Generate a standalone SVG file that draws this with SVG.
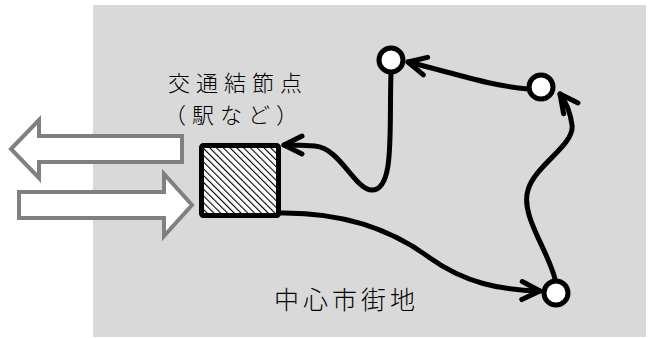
<svg xmlns="http://www.w3.org/2000/svg" width="649" height="338" viewBox="0 0 649 338">
  <style>
    .flow{fill:#fff;stroke:#808080;stroke-width:4;stroke-linejoin:miter}
    .conn{fill:none;stroke:#000;stroke-width:5;stroke-linecap:round;marker-end:url(#chev)}
    .node{fill:#fff;stroke:#000;stroke-width:5}
    .lbl{font-family:"Noto Sans CJK JP","Noto Sans",sans-serif;font-weight:300;fill:#000}
  </style>
  <defs>
    <marker id="chev" markerUnits="userSpaceOnUse" markerWidth="40" markerHeight="40" viewBox="-25 -20 40 40" refX="0" refY="0" orient="auto" overflow="visible">
      <path d="M-18,-9 L0,0 L-18,9" fill="none" stroke="#000" stroke-width="5" stroke-linecap="round" stroke-linejoin="round"/>
    </marker>
    <pattern id="hatch" width="4.8" height="4.8" patternUnits="userSpaceOnUse" patternTransform="rotate(-45)">
      <rect width="4.8" height="4.8" fill="#fff"/>
      <rect x="0" y="0" width="1.1" height="4.8" fill="#000"/>
    </pattern>
  </defs>
  <rect x="93" y="5" width="553" height="332" fill="#d9d9d9"/>

  <g id="flow-out">
    <path class="flow" d="M11,149 L39,120 L39,136 L182,136 L182,162 L39,162 L39,178 Z"/>
  </g>
  <g id="flow-in">
    <path class="flow" d="M19,192 L164,192 L164,174 L192,205 L164,236 L164,218 L19,218 Z"/>
  </g>

  <g id="connectors">
    <path class="conn" d="M391,73 C389,130 395,190 372,190 C355,190 340,148 315,146 C300,145 292,145 284,145"/>
    <path class="conn" d="M528,89 C490,86 450,72 408,62"/>
    <path class="conn" d="M555,279 C548,250 520,215 528,190 C535,165 575,145 572,125 C570,110 566,102 560,94"/>
    <path class="conn" d="M279,213 C340,212 390,228 430,258 C465,283 500,290 540,291"/>
  </g>

  <g id="hub">
    <rect x="201.5" y="145.5" width="77" height="70" rx="2" fill="url(#hatch)" stroke="#000" stroke-width="5"/>
    <text class="lbl" x="168" y="91" font-size="22" letter-spacing="6">交通結節点</text>
    <text class="lbl" x="164" y="123" font-size="22" letter-spacing="6">（駅など）</text>
  </g>
  <g id="node-a"><circle class="node" cx="391" cy="60" r="12"/></g>
  <g id="node-b"><circle class="node" cx="541" cy="87" r="12"/></g>
  <g id="node-c"><circle class="node" cx="556" cy="293" r="12"/></g>
  <g id="area-label">
    <text class="lbl" x="274" y="309" font-size="25" letter-spacing="4">中心市街地</text>
  </g>
</svg>
